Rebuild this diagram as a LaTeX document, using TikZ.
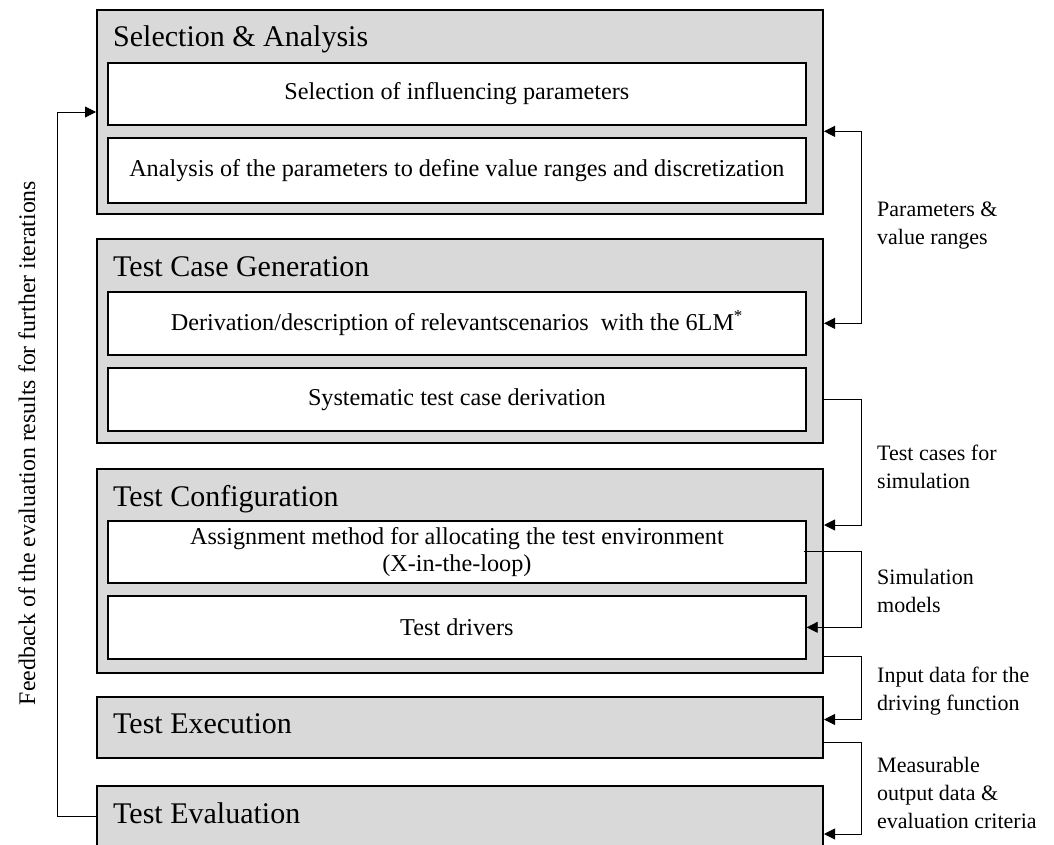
\documentclass[tikz,border=0pt]{standalone}
\usepackage{fontspec}
\setmainfont{Liberation Serif}
\usetikzlibrary{arrows.meta,calc}
\definecolor{stagegray}{RGB}{217,217,217}

\tikzset{
  stage/.style={draw=black, line width=2pt, fill=stagegray, anchor=north west,
    minimum width=726pt, inner sep=0pt},
  task/.style={draw=black, line width=1.7pt, fill=white, anchor=north west,
    minimum width=698pt, inner sep=0pt, align=center,
    font=\fontsize{24.2}{26.5}\selectfont},
  stagetitle/.style={anchor=base west, inner sep=0pt, font=\fontsize{30}{35}\selectfont},
  flow/.style={line width=0.9pt},
  flowlabel/.style={anchor=north west, inner sep=0pt, align=left,
    font=\fontsize{22}{28}\selectfont},
  >={Triangle[length=11pt,width=11pt]}
}

\begin{document}
\begin{tikzpicture}[x=1pt,y=-1pt]
  \clip (0,0) rectangle (1054,845);
  \useasboundingbox (0,0) rectangle (1054,845);

  % stages
  \node[stage, minimum height=204pt] (sa)  at (96,9)   {};
  \node[stage, minimum height=204pt] (tcg) at (96,238) {};
  \node[stage, minimum height=204pt] (tc)  at (96,468) {};
  \node[stage, minimum height=61pt]  (te)  at (96,696) {};
  \node[stage, minimum height=100pt] (tv)  at (96,785) {};

  % stage titles
  \node[stagetitle] (saT)  at (113,47)  {Selection \& Analysis};
  \node[stagetitle] (tcgT) at (113,276) {Test Case Generation};
  \node[stagetitle] (tcT)  at (113,506) {Test Configuration};
  \node[stagetitle] (teT)  at (113,733) {Test Execution};
  \node[stagetitle] (tvT)  at (113,823) {Test Evaluation};

  % tasks
  \node[task, minimum height=62pt] (sa1)  at (107,62)  {Selection of influencing parameters};
  \node[task, minimum height=65pt] (sa2)  at (107,137) {Analysis of the parameters to define value ranges and discretization};
  \node[task, minimum height=63pt] (tcg1) at (107,291) {Derivation/description of relevantscenarios\ \ with the 6LM\textsuperscript{*}};
  \node[task, minimum height=63pt] (tcg2) at (107,367) {Systematic test case derivation};
  \node[task, minimum height=62pt] (tc1)  at (107,520) {Assignment method for allocating the test environment\\(X-in-the-loop)};
  \node[task, minimum height=63pt] (tc2)  at (107,595) {Test drivers};

  % bus lines
  \coordinate (bus) at (861,0);
  \coordinate (fb)  at (57,0);

  % connectors on the right
  \draw[flow,<->] ($(sa.east |- sa1.south)!.5!(sa.east |- sa2.north)$) -| (bus |- tcg1.east) -- (tcg.east |- tcg1.east);
  \draw[flow,->] (tcg.east |- tcg2.east) -| (bus |- {$(tc1.north)+(0,5)$}) -- ($(tc.east |- tc1.north)+(0,5)$);
  \draw[flow,->] ([xshift=-3pt]tc1.east) -| (bus |- tc2.east) -- (tc2.east);
  \draw[flow,->] ($(tc.east |- tc2.south)+(0,-3)$) -| (bus |- {$(te.east)+(0,-8)$}) -- ($(te.east)+(0,-8)$);
  \draw[flow,->] ($(te.east)+(0,15)$) -| (bus |- {$(tv.north east)+(0,49)$}) -- ($(tv.north east)+(0,49)$);

  % feedback loop on the left
  \draw[flow,->] ($(tv.north west)+(0,31)$) -| (fb |- sa.west) -- (sa.west);

  % labels
  \node[flowlabel] (l1) at (877,202) {Parameters \&\\value ranges};
  \node[flowlabel] (l2) at (877,445) {Test cases for\\simulation};
  \node[flowlabel] (l3) at (877,569) {Simulation\\models};
  \node[flowlabel] (l4) at (877,667) {Input data for the\\driving function};
  \node[flowlabel] (l5) at (877,757) {Measurable\\output data \&\\evaluation criteria};

  \node[rotate=90, anchor=base, inner sep=0pt, font=\fontsize{23.8}{28}\selectfont] (fbl)
    at (35,443) {Feedback of the evaluation results for further iterations};
\end{tikzpicture}
\end{document}
